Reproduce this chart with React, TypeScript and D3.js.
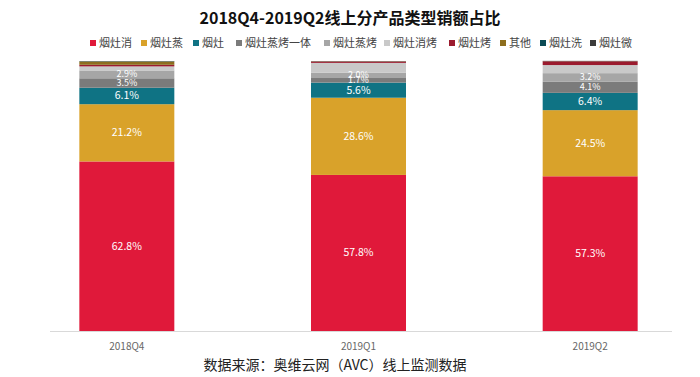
import React from "react";
import * as d3 from "d3";

const categories = ["2018Q4", "2019Q1", "2019Q2"];
const seriesNames = ["烟灶消", "烟灶蒸", "烟灶", "烟灶蒸烤一体", "烟灶蒸烤", "烟灶消烤", "烟灶烤", "其他", "烟灶洗", "烟灶微"];
const colors = ["#e0193a", "#d9a22a", "#0f7384", "#7b7b7b", "#a6a6a6", "#c9c9c9", "#9b1b2e", "#8d6e1e", "#0b4b55", "#3c3c3c"];
const v烟灶消 = [62.8, 57.8, 57.3];
const v烟灶蒸 = [21.2, 28.6, 24.5];
const v烟灶 = [6.1, 5.6, 6.4];
const v蒸烤一体 = [3.5, 1.7, 4.1];
const v蒸烤 = [2.9, 2.0, 3.2];
const v消烤 = [1.5, 3.6, 3.0];
const v烤 = [0.6, 0.5, 1.4];
const v其他 = [1.2, 0.1, 0.05];
const v洗 = [0.1, 0.05, 0.05];
const v微 = [0.1, 0.05, 0.05];
const seriesValues = [v烟灶消, v烟灶蒸, v烟灶, v蒸烤一体, v蒸烤, v消烤, v烤, v其他, v洗, v微];
const labelShown = [true, true, true, true, true, false, false, false, false, false];
const legendX = [90, 141, 193, 236, 324, 384, 449, 500, 540, 590];
const sourceText = "数据来源：奥维云网（AVC）线上监测数据";
const title = "2018Q4-2019Q2线上分产品类型销额占比";

const W = 700, H = 377;
const FONT = "'Noto Sans CJK SC', 'Noto Sans', sans-serif";

export default function App() {
  const x = d3.scaleBand().domain(categories).range([11, 706]).paddingInner(0.59).paddingOuter(0.295);
  const y = d3.scaleLinear().domain([0, 100]).range([331, 61]);
  const rows = categories.map((c, i) => {
    const r: any = { cat: c };
    seriesNames.forEach((s, j) => (r[s] = seriesValues[j][i]));
    return r;
  });
  const stacked = d3.stack().keys(seriesNames)(rows);

  return (
    <svg width={W} height={H} style={{ position: "absolute", left: 0, top: 0, background: "#fff" }}>
      <text x={350} y={24} textAnchor="middle" fontFamily={FONT} fontSize={16} fontWeight="bold" fill="#111">{title}</text>
      {seriesNames.map((s, j) => (
        <g key={s} transform={`translate(${legendX[j]},44)`}>
          <rect x={0} y={-4} width={6} height={6} fill={colors[j]} />
          <text x={9} y={3} fontFamily={FONT} fontSize={11} fill="#444">{s}</text>
        </g>
      ))}
      {stacked.map((layer, j) => (
        <g key={seriesNames[j]}>
          {layer.map((d, i) => (
            <rect key={i} x={x(categories[i])} width={x.bandwidth()} y={y(d[1])} height={Math.max(0, y(d[0]) - y(d[1]))} fill={colors[j]} />
          ))}
        </g>
      ))}
      {stacked.map((layer, j) =>
        labelShown[j]
          ? layer.map((d, i) => (
              <text key={`${j}-${i}`} x={(x(categories[i]) as number) + x.bandwidth() / 2} y={(y(d[0]) + y(d[1])) / 2 + (j >= 3 ? 3 : 3.5)}
                textAnchor="middle" fontFamily={FONT} fontSize={j >= 3 ? 9 : 10.5} fill="#fff">
                {seriesValues[j][i].toFixed(1)}%
              </text>
            ))
          : null
      )}
      <line x1={50} x2={672} y1={331.5} y2={331.5} stroke="#d9d9d9" strokeWidth={1} />
      {categories.map((c) => (
        <text key={c} x={(x(c) as number) + x.bandwidth() / 2} y={350} textAnchor="middle" fontFamily={FONT} fontSize={10} fill="#666">{c}</text>
      ))}
      <text x={335} y={370} textAnchor="middle" fontFamily={FONT} fontSize={14} fill="#222">{sourceText}</text>
    </svg>
  );
}
